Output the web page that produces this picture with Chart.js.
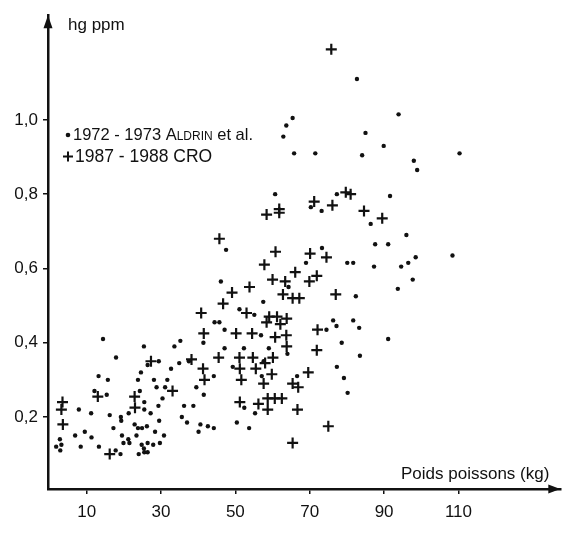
<!DOCTYPE html>
<html>
<head>
<meta charset="utf-8">
<script src="https://cdn.jsdelivr.net/npm/chart.js@4"></script>
<style>
  html, body { margin:0; padding:0; background:#fff; }
  canvas { display:block; }
</style>
</head>
<body>
<canvas id="chart" width="568" height="533"></canvas>
<script>
// [poids kg, hg ppm]
const aldrin7273 = [
  [14.4,0.41],[25.4,0.39],[33.6,0.39],[17.9,0.36],[29.4,0.35],[26.4,0.34],[24.6,0.32],[32.7,0.33],
  [13.2,0.31],[15.7,0.30],[23.8,0.30],[28.1,0.30],[31.7,0.30],[28.8,0.28],[31.1,0.28],[12.1,0.27],
  [15.4,0.26],[24.3,0.27],[30.4,0.25],[25.5,0.24],[29.3,0.23],[7.9,0.22],[11.2,0.21],[16.2,0.205],
  [19.2,0.20],[21.3,0.21],[25.5,0.22],[27.2,0.21],[19.3,0.19],[29.5,0.19],[17.2,0.17],[22.9,0.18],
  [23.8,0.17],[24.9,0.17],[26.2,0.175],[9.5,0.16],[6.9,0.15],[11.3,0.145],[19.5,0.15],[21.2,0.14],
  [23.4,0.15],[28.4,0.16],[30.8,0.15],[2.8,0.14],[19.9,0.13],[21.5,0.13],[24.8,0.125],[26.4,0.13],
  [27.9,0.125],[29.7,0.13],[1.8,0.12],[3.2,0.125],[8.4,0.12],[13.3,0.12],[2.9,0.11],[17.8,0.11],
  [25.4,0.115],[19.1,0.10],[24.0,0.10],[25.5,0.105],[26.4,0.105],
  [57.5,0.51],[51.1,0.49],[55.1,0.475],[44.4,0.455],[45.7,0.455],[47.1,0.435],[41.4,0.40],[56.9,0.42],
  [35.2,0.405],[47.1,0.385],[52.3,0.385],[59.0,0.385],[34.9,0.345],[37.5,0.35],[49.3,0.335],[57.6,0.35],
  [44.2,0.31],[57.1,0.31],[39.5,0.28],[41.5,0.26],[52.4,0.225],[55.3,0.21],[36.2,0.23],[38.7,0.23],
  [35.6,0.20],[37.0,0.185],[40.6,0.18],[42.6,0.175],[44.2,0.17],[40.1,0.16],[50.4,0.185],[53.7,0.17],
  [46.1,0.565],[47.5,0.65],[60.7,0.80],
  [82.4,0.525],[76.3,0.46],[77.2,0.445],[81.7,0.46],[83.3,0.44],[74.5,0.435],[78.6,0.40],[83.5,0.365],
  [64.0,0.37],[77.3,0.335],[79.2,0.305],[80.2,0.265],[66.6,0.31],[91.1,0.41],[69.0,0.615],[80.1,0.615],
  [81.7,0.615],[87.3,0.605],[94.6,0.605],[96.5,0.615],[98.5,0.63],[97.7,0.57],[93.7,0.545],[96.0,0.69],
  [91.1,0.665],[87.6,0.665],[108.4,0.635],[86.4,0.72],[73.3,0.655],[91.6,0.795],[77.3,0.80],[70.3,0.765],
  [73.2,0.755],[65.8,0.91],[71.5,0.91],[84.1,0.905],[98.0,0.89],[98.9,0.865],[110.3,0.91],[82.7,1.11],
  [65.4,1.005],[63.7,0.985],[62.9,0.955],[93.9,1.015],[85.0,0.965],[89.9,0.93],[64.3,0.55]
];
const cro8788 = [
  [27.3,0.35],[13.0,0.255],[3.5,0.24],[3.2,0.22],[22.9,0.255],[23.0,0.225],[3.6,0.18],[33.1,0.27],[16.2,0.10],
  [49.1,0.535],[46.7,0.505],[40.8,0.48],[53.0,0.48],[59.1,0.47],[61.2,0.47],[58.4,0.455],[62.1,0.45],
  [41.5,0.425],[50.2,0.425],[54.5,0.425],[60.7,0.415],[38.2,0.355],[45.5,0.36],[51.1,0.36],[54.7,0.36],
  [60.1,0.36],[58.0,0.345],[51.2,0.33],[55.5,0.33],[41.3,0.33],[41.7,0.30],[51.6,0.30],[59.8,0.315],
  [57.6,0.29],[51.2,0.24],[56.2,0.235],[58.7,0.25],[60.6,0.25],[62.5,0.25],[58.7,0.22],[62.8,0.53],
  [65.4,0.52],[67.2,0.52],[77.0,0.53],[63.8,0.465],[72.1,0.435],[63.7,0.42],[63.8,0.39],[71.9,0.38],
  [69.6,0.32],[65.4,0.29],[66.9,0.28],[66.7,0.22],[75.0,0.175],[65.4,0.13],
  [58.4,0.745],[61.8,0.76],[61.8,0.75],[45.7,0.68],[60.8,0.645],[57.8,0.61],[60.0,0.57],[63.4,0.565],[53.8,0.55],
  [79.7,0.805],[81.0,0.80],[71.2,0.78],[76.1,0.77],[84.6,0.755],[89.5,0.735],[70.1,0.64],[74.5,0.63],
  [66.1,0.59],[71.9,0.58],[69.9,0.565],[75.8,1.19]
];
const xTicks = [10, 30, 50, 70, 90, 110];
const yTicks = [0.2, 0.4, 0.6, 0.8, 1.0];

const INK = '#111';
const FONT = '"Liberation Sans", Arial, sans-serif';

const toPts = arr => arr.map(p => ({x:p[0], y:p[1]}));

// arrows, axis names and the hand-made key
const decor = {
  id:'decor',
  afterDraw(chart){
    const {ctx, chartArea:a} = chart;
    ctx.save();
    ctx.fillStyle = INK;
    // y arrow
    ctx.beginPath();
    ctx.moveTo(a.left, a.top);
    ctx.lineTo(a.left-4.5, a.top+13);
    ctx.lineTo(a.left+4.5, a.top+13);
    ctx.closePath(); ctx.fill();
    // x arrow
    ctx.beginPath();
    ctx.moveTo(a.right, a.bottom);
    ctx.lineTo(a.right-12, a.bottom-4.5);
    ctx.lineTo(a.right-12, a.bottom+4.5);
    ctx.closePath(); ctx.fill();

    ctx.font = '17px ' + FONT;
    ctx.textBaseline = 'alphabetic';
    ctx.fillText('hg ppm', 68, 30);
    ctx.fillText('Poids poissons (kg)', 401, 479);

    // key
    ctx.beginPath(); ctx.arc(68, 135, 2.3, 0, Math.PI*2); ctx.fill();
    let x = 73;
    const seg = (t, size) => { ctx.font = size + 'px ' + FONT; ctx.fillText(t, x, 140); x += ctx.measureText(t).width; };
    seg('1972 - 1973 A', 16.5); seg('LDRIN', 12); seg(' et al.', 16.5);
    ctx.strokeStyle = INK; ctx.lineWidth = 2;
    ctx.beginPath();
    ctx.moveTo(63, 156.5); ctx.lineTo(73, 156.5);
    ctx.moveTo(68, 151.5); ctx.lineTo(68, 161.5);
    ctx.stroke();
    ctx.font = '17.5px ' + FONT;
    ctx.fillText('1987 - 1988 CRO', 75, 162);
    ctx.restore();
  }
};

new Chart(document.getElementById('chart'), {
  type:'scatter',
  data:{
    datasets:[
      { label:'1972 - 1973 Aldrin et al.', data:toPts(aldrin7273), pointStyle:'circle', pointRadius:2.2,
        backgroundColor:INK, borderColor:INK, borderWidth:0 },
      { label:'1987 - 1988 CRO', data:toPts(cro8788), pointStyle:'cross', pointRadius:5.5,
        borderColor:INK, borderWidth:2.2 }
    ]
  },
  plugins:[decor],
  options:{
    responsive:false,
    animation:false,
    events:[],
    layout:{ padding:{ top:13, right:6, left:0, bottom:0 } },
    plugins:{ legend:{ display:false }, tooltip:{ enabled:false } },
    scales:{
      x:{
        type:'linear', min:-0.4, max:137.4,
        afterFit: s => { s.height = 44; },
        afterBuildTicks: s => { s.ticks = xTicks.map(v => ({value:v})); },
        grid:{ display:true, drawOnChartArea:false, drawTicks:true, tickLength:5, color:INK, lineWidth:1.5 },
        border:{ display:true, color:INK, width:2.5 },
        ticks:{ color:INK, font:{ family:FONT, size:17 }, padding:8, maxRotation:0 }
      },
      y:{
        type:'linear', min:0.006, max:1.282,
        afterFit: s => { s.width = 48; },
        afterBuildTicks: s => { s.ticks = yTicks.map(v => ({value:v})); },
        grid:{ display:true, drawOnChartArea:false, drawTicks:true, tickLength:5, color:INK, lineWidth:1.5 },
        border:{ display:true, color:INK, width:2.5 },
        ticks:{ color:INK, font:{ family:FONT, size:17 }, padding:5,
                callback: v => v.toFixed(1).replace('.', ',') }
      }
    }
  }
});
</script>
</body>
</html>
